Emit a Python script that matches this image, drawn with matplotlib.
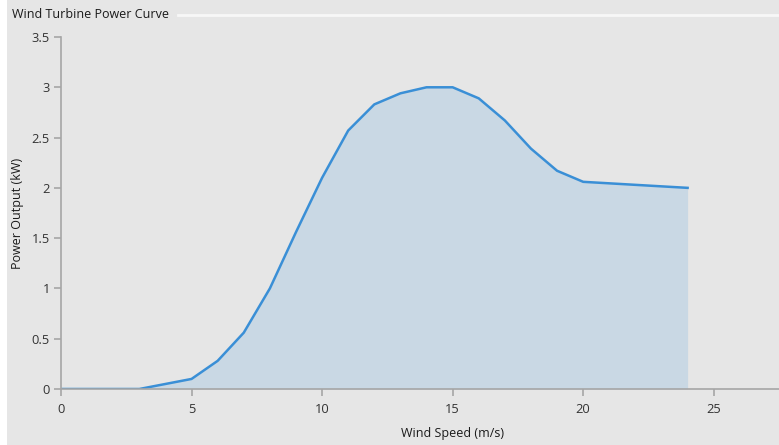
import matplotlib
matplotlib.use("Agg")
import matplotlib.pyplot as plt
from matplotlib.lines import Line2D
from matplotlib.patches import Rectangle

wind_speed = [0, 1, 2, 3, 4, 5, 6, 7, 8, 9, 10, 11, 12, 13, 14, 15, 16, 17, 18, 19, 20, 21, 22, 23, 24]
power_kw = [0, 0, 0, 0, 0.05, 0.10, 0.28, 0.56, 1.00, 1.56, 2.10, 2.57, 2.83, 2.94, 3.00, 3.00,
            2.89, 2.67, 2.39, 2.17, 2.06, 2.045, 2.03, 2.015, 2.00]
x_ticks = [0, 5, 10, 15, 20, 25]
y_ticks = [0, 0.5, 1, 1.5, 2, 2.5, 3, 3.5]
y_tick_labels = ["0", "0.5", "1", "1.5", "2", "2.5", "3", "3.5"]

W, H = 779, 445
plt.rcParams['font.family'] = ['Open Sans', 'DejaVu Sans']
bg = '#e6e6e6'
fig = plt.figure(figsize=(W / 100, H / 100), dpi=100, facecolor=bg)

# white left margin and group box line
fig.patches.append(Rectangle((0, 0), 7 / W, 1, transform=fig.transFigure, facecolor='white',
                             edgecolor='none', zorder=0))
fig.add_artist(Line2D([178 / W, 1], [1 - 15 / H, 1 - 15 / H], transform=fig.transFigure,
                      color='#f7f7f7', lw=2))

ax = fig.add_axes([61 / W, (H - 389) / H, (W - 61) / W, (389 - 37) / H])
ax.set_facecolor(bg)
ax.fill_between(wind_speed, power_kw, 0, color='#c9d8e4', lw=0)
ax.plot(wind_speed, power_kw, color='#3a8fd6', lw=1.8, solid_joinstyle='round')

ax.set_xlim(0, 27.5)
ax.set_ylim(0, 3.5)
ax.set_xticks(x_ticks)
ax.set_yticks(y_ticks)
ax.set_yticklabels(y_tick_labels)
for s in ['top', 'right']:
    ax.spines[s].set_visible(False)
for s in ['left', 'bottom']:
    ax.spines[s].set_color('#a6a6a6')
    ax.spines[s].set_linewidth(1.2)
ax.tick_params(colors='#a6a6a6', labelcolor='#333333', length=5, width=1.2, labelsize=9.3)
ax.tick_params(axis='x', pad=5)
ax.tick_params(axis='y', pad=3)

fig.text(12 / W, 1 - 15 / H, 'Wind Turbine Power Curve', fontsize=9, color='#1a1a1a',
         va='center', ha='left')
fig.text(453 / W, 1 - 434 / H, 'Wind Speed (m/s)', fontsize=9, color='#1a1a1a',
         va='center', ha='center')
fig.text(18 / W, 1 - 213 / H, 'Power Output (kW)', fontsize=9, color='#1a1a1a',
         va='center', ha='center', rotation=90)

fig.savefig('out.png', dpi=100, facecolor=bg)
